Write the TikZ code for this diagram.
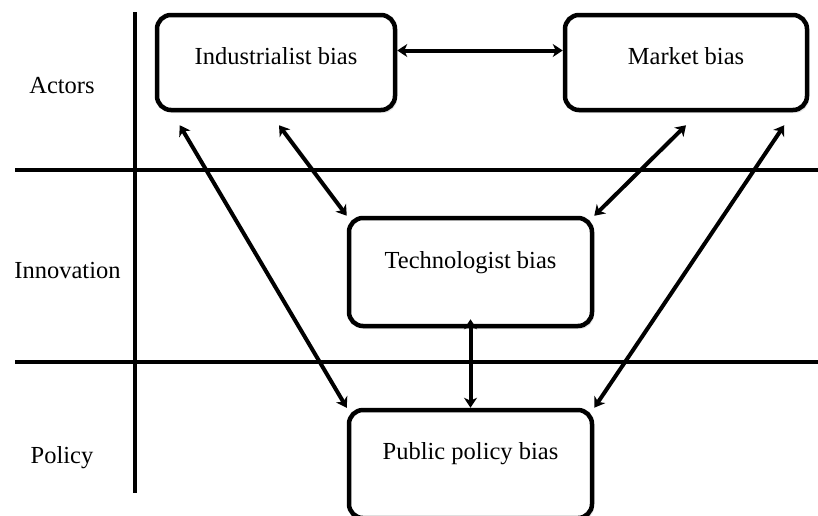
\documentclass[tikz,border=0pt]{standalone}
\usepackage{fontspec}
\setmainfont{Liberation Serif}
\usetikzlibrary{arrows.meta,shadows}
\begin{document}
\begin{tikzpicture}[x=1pt, y=-1pt,
		biasbox/.style={draw, line width=4.5pt, rounded corners=14pt, fill=white,
			drop shadow={shadow xshift=2pt, shadow yshift=-3pt, opacity=.2},
			inner sep=0pt, text height=17pt, font=\fontsize{24.5}{28}\selectfont},
		rowlabel/.style={anchor=base, font=\fontsize{24.5}{28}\selectfont},
		link/.style={line width=4pt, {Stealth[length=10pt,width=13pt,inset=3pt]}-{Stealth[length=10pt,width=13pt,inset=3pt]}}]
				\useasboundingbox (0,0) rectangle (818,515);
				
				\foreach \y in {170,362}
				\draw[line width=4.5pt] (15,\y) -- (818,\y);
				\draw[line width=4.5pt] (135,12) -- (135,493);
				
				\node[rowlabel] (actors) at (62,93) {Actors};
				\node[rowlabel] (innov) at (67.5,278) {Innovation};
				\node[rowlabel] (policy) at (62,463) {Policy};
				
				\node[biasbox, minimum width=238pt, minimum height=95pt, text depth=14pt] (ind) at (276,62.5) {Industrialist bias};
				\node[biasbox, minimum width=242pt, minimum height=95pt, text depth=14pt] (mkt) at (686,62.5) {Market bias};
				\node[biasbox, minimum width=243pt, minimum height=108pt, text depth=25pt] (tech) at (470.5,272) {Technologist bias};
				\node[biasbox, minimum width=243pt, minimum height=108pt, text depth=27pt] (pub) at (470.5,464) {Public policy bias};
				
				\draw[link] ([yshift=12pt]ind.east) -- ([yshift=12pt]mkt.west);
				\draw[link] ([xshift=3pt,yshift=-13pt]ind.south) -- (tech.north west);
				\draw[link] ([xshift=25pt,yshift=-13pt]ind.south west) -- (pub.north west);
				\draw[link] ([yshift=-13pt]mkt.south) -- (tech.north east);
				\draw[link] ([xshift=-25pt,yshift=-13pt]mkt.south east) -- (pub.north east);
				\draw[link] ([yshift=9pt]tech.south) -- (pub.north);
				
\end{tikzpicture}
\end{document}
